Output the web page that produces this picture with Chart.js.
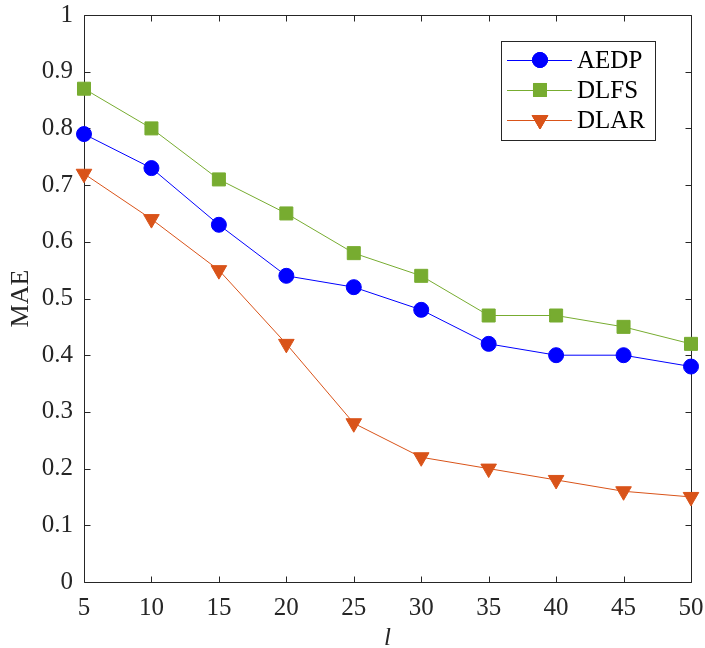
<!DOCTYPE html>
<html><head><meta charset="utf-8">
<script src="https://cdn.jsdelivr.net/npm/chart.js@4/dist/chart.umd.min.js"></script>
<style>html,body{margin:0;padding:0;background:#fff}</style>
</head><body>
<canvas id="c" width="705" height="648"></canvas>
<script>
const xValues = [5, 10, 15, 20, 25, 30, 35, 40, 45, 50];
const aedp = [0.79, 0.73, 0.63, 0.54, 0.52, 0.48, 0.42, 0.40, 0.40, 0.38];
const dlfs = [0.87, 0.80, 0.71, 0.65, 0.58, 0.54, 0.47, 0.47, 0.45, 0.42];
const dlar = [0.72, 0.64, 0.55, 0.42, 0.28, 0.22, 0.20, 0.18, 0.16, 0.15];
const seriesNames = ['AEDP', 'DLFS', 'DLAR'];
const xTicks = [5, 10, 15, 20, 25, 30, 35, 40, 45, 50];
const yTicks = [0, 0.1, 0.2, 0.3, 0.4, 0.5, 0.6, 0.7, 0.8, 0.9, 1];
const xLabel = 'l';
const yLabel = 'MAE';

const FONT = "'Liberation Serif'";
const AXIS = '#262626';

function pts(arr){ return arr.map((v,i)=>({x:xValues[i], y:v})); }

const styles = [
  {color:'#0000FF', pointStyle:'circle', radius:7.5, rotation:0},
  {color:'#77AC30', pointStyle:'rect', radius:9.2, rotation:0},
  {color:'#D95319', pointStyle:'triangle', radius:9, rotation:180}
];
const seriesData = [aedp, dlfs, dlar];

const datasets = seriesData.map((d,i)=>({
  label: seriesNames[i],
  data: pts(d),
  borderColor: styles[i].color,
  backgroundColor: styles[i].color,
  borderWidth: 1,
  pointStyle: styles[i].pointStyle,
  pointRadius: styles[i].radius,
  pointRotation: styles[i].rotation,
  pointBorderWidth: 1,
  pointBorderColor: styles[i].color,
  pointBackgroundColor: styles[i].color,
  tension: 0,
  clip: false
}));

const boxPlugin = {
  id: 'box',
  beforeDatasetsDraw(chart){
    const {ctx, chartArea:a, scales:{x, y}} = chart;
    ctx.save();
    ctx.strokeStyle = AXIS;
    ctx.lineWidth = 1;
    const L = Math.round(a.left)+0.5, R = Math.round(a.right)+0.5, T = Math.round(a.top)+0.5, B = Math.round(a.bottom)+0.5;
    ctx.beginPath();
    ctx.rect(L, T, R-L, B-T);
    const tl = 6;
    xTicks.forEach(v=>{
      const px = Math.round(x.getPixelForValue(v))+0.5;
      ctx.moveTo(px, B); ctx.lineTo(px, B-tl);
      ctx.moveTo(px, T); ctx.lineTo(px, T+tl);
    });
    yTicks.forEach(v=>{
      const py = Math.round(y.getPixelForValue(v))+0.5;
      ctx.moveTo(L, py); ctx.lineTo(L+tl, py);
      ctx.moveTo(R, py); ctx.lineTo(R-tl, py);
    });
    ctx.stroke();
    ctx.restore();
  },
  afterDraw(chart){
    const ctx = chart.ctx;
    ctx.save();
    const bx = 501.5, by = 41.5, bw = 154, bh = 99;
    ctx.fillStyle = '#fff';
    ctx.fillRect(bx, by, bw, bh);
    ctx.strokeStyle = AXIS;
    ctx.lineWidth = 1;
    ctx.strokeRect(bx, by, bw, bh);
    const rows = [60, 90, 120];
    seriesNames.forEach((name,i)=>{
      const ry = rows[i];
      ctx.strokeStyle = styles[i].color;
      ctx.lineWidth = 1;
      ctx.beginPath();
      ctx.moveTo(507, ry+0.5); ctx.lineTo(572, ry+0.5);
      ctx.stroke();
      ctx.fillStyle = styles[i].color;
      Chart.helpers.drawPoint(ctx, {pointStyle: styles[i].pointStyle, radius: styles[i].radius, rotation: styles[i].rotation, borderWidth:1}, 540, ry);
      ctx.fill();
      ctx.stroke();
      ctx.fillStyle = '#000';
      ctx.font = "25px " + FONT;
      ctx.textBaseline = 'middle';
      ctx.textAlign = 'left';
      ctx.fillText(name, 577, ry+1);
    });
    ctx.restore();
  }
};

function build(){
  new Chart(document.getElementById('c'), {
    type: 'line',
    data: { datasets },
    options: {
      responsive: false,
      animation: false,
      devicePixelRatio: 1,
      layout: { padding: { top: 15, right: 14, left: 0, bottom: 0 } },
      plugins: { legend: { display: false }, tooltip: { enabled: false } },
      scales: {
        x: {
          type: 'linear', min: 5, max: 50,
          afterFit(s){ s.height = 66; s.paddingLeft = 0; s.paddingRight = 0; s.paddingTop = 0; s.paddingBottom = 0; },
          afterBuildTicks(s){ s.ticks = xTicks.map(v=>({value:v})); },
          grid: { display: false, drawTicks: false },
          border: { display: false },
          ticks: { padding: 11, color: AXIS, font: { family: FONT, size: 25 }, maxRotation: 0, autoSkip: false },
          title: { display: true, text: xLabel, color: AXIS, font: { family: FONT, size: 25, style: 'italic', lineHeight: 0.8 }, padding: { top: 0, bottom: 0 } }
        },
        y: {
          type: 'linear', min: 0, max: 1,
          afterFit(s){ s.width = 84; s.paddingLeft = 0; s.paddingRight = 0; s.paddingTop = 0; s.paddingBottom = 0; },
          afterBuildTicks(s){ s.ticks = yTicks.map(v=>({value:v})); },
          grid: { display: false, drawTicks: false },
          border: { display: false },
          ticks: { padding: 11, color: AXIS, font: { family: FONT, size: 25 }, autoSkip: false,
            callback: v => String(Number(v.toFixed(1))) },
          title: { display: true, text: yLabel, color: AXIS, font: { family: FONT, size: 26 }, padding: { top: 6, bottom: 0 } }
        }
      }
    },
    plugins: [boxPlugin]
  });
}
Promise.all([
  document.fonts.load("24px 'Liberation Serif'"),
  document.fonts.load("italic 24px 'Liberation Serif'")
]).then(build, build);
</script>
</body></html>
